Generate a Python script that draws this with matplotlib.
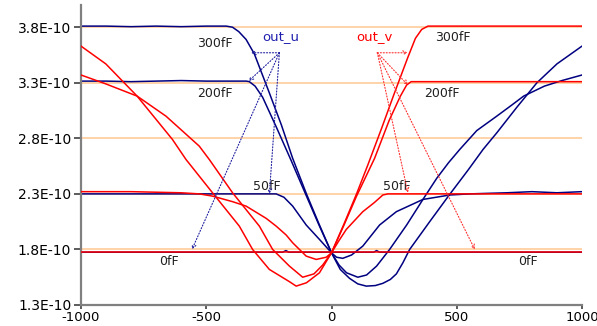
import matplotlib
matplotlib.use("Agg")
import matplotlib.pyplot as plt
from matplotlib.ticker import FuncFormatter

# values in units of 1E-10
# out_u (navy)
u0_x = [-1000, -300, -195, -182, -170, 0, 168, 180, 192, 1000]
u0_y = [1.775, 1.775, 1.775, 1.79, 1.775, 1.775, 1.775, 1.79, 1.775, 1.775]
u50_x = [-1000, -800, -600, -400, -240, -221, -190, -155, -101, -48, 0, 20, 45, 80, 125,
         192, 259, 365, 472, 550, 700, 800, 900, 1000]
u50_y = [2.30, 2.30, 2.30, 2.30, 2.30, 2.30, 2.27, 2.19, 2.02, 1.89, 1.77, 1.73, 1.72, 1.75, 1.83,
         2.02, 2.14, 2.25, 2.29, 2.30, 2.31, 2.32, 2.31, 2.32]
u200_x = [-1000, -900, -800, -700, -600, -500, -400, -340, -328, -305, -275, -220, -161, -100, -50,
          0, 30, 60, 105, 140, 180, 232, 300, 365, 420, 467, 512, 580, 660, 720, 767, 850, 920, 1000]
u200_y = [3.315, 3.315, 3.31, 3.315, 3.32, 3.315, 3.315, 3.315, 3.31, 3.27, 3.17, 2.90, 2.60, 2.28, 2.02,
          1.77, 1.66, 1.59, 1.55, 1.57, 1.65, 1.80, 2.02, 2.25, 2.44, 2.58, 2.70, 2.87, 3.00, 3.10, 3.18, 3.27, 3.32, 3.37]
u300_x = [-1000, -900, -800, -700, -600, -500, -420, -395, -370, -341, -308, -250, -200, -155, -100, -50,
          0, 35, 72, 105, 139, 175, 205, 235, 259, 285, 312, 392, 470, 527, 547, 605, 660, 740, 820, 900, 1000]
u300_y = [3.81, 3.81, 3.805, 3.81, 3.805, 3.81, 3.81, 3.80, 3.76, 3.69, 3.56, 3.22, 2.92, 2.62, 2.30, 2.03,
          1.77, 1.62, 1.54, 1.49, 1.47, 1.475, 1.495, 1.53, 1.58, 1.68, 1.80, 2.05, 2.29, 2.46, 2.52, 2.70, 2.85, 3.08, 3.30, 3.47, 3.63]

# out_v (red)
v0_x = [-1000, 1000]
v0_y = [1.775, 1.775]
v50_x = [-1000, -800, -600, -528, -475, -395, -341, -261, -221, -181, -155, -101, -61, -21, 0,
         30, 59, 125, 170, 205, 225, 400, 600, 800, 1000]
v50_y = [2.32, 2.32, 2.31, 2.30, 2.28, 2.23, 2.19, 2.08, 2.01, 1.93, 1.86, 1.74, 1.71, 1.73, 1.77,
         1.88, 1.98, 2.14, 2.22, 2.29, 2.30, 2.30, 2.30, 2.30, 2.30]
v200_x = [-1000, -901, -776, -661, -528, -488, -395, -288, -235, -168, -115, -70, -35, 0,
          50, 100, 172, 230, 275, 300, 318, 500, 700, 1000]
v200_y = [3.37, 3.29, 3.18, 3.00, 2.73, 2.61, 2.31, 2.01, 1.80, 1.65, 1.55, 1.58, 1.66, 1.77,
          2.02, 2.28, 2.62, 2.96, 3.18, 3.28, 3.31, 3.31, 3.31, 3.31]
v300_x = [-1000, -901, -776, -635, -581, -475, -368, -315, -248, -168, -141, -100, -48, 0,
          50, 100, 145, 200, 250, 305, 335, 360, 385, 600, 800, 1000]
v300_y = [3.63, 3.47, 3.18, 2.79, 2.61, 2.31, 2.01, 1.80, 1.62, 1.51, 1.47, 1.50, 1.59, 1.77,
          2.03, 2.30, 2.56, 2.89, 3.20, 3.53, 3.70, 3.78, 3.81, 3.81, 3.81, 3.81]

grid_levels = [1.8, 2.3, 2.8, 3.3, 3.8]
y_ticks = [1.3, 1.8, 2.3, 2.8, 3.3, 3.8]
x_ticks = [-1000, -500, 0, 500, 1000]

# callout labels: (text, x, y)
cap_labels = [("300fF", -466, 3.655), ("200fF", -466, 3.20), ("50fF", -258, 2.37), ("0fF", -650, 1.69),
              ("300fF", 486, 3.705), ("200fF", 442, 3.20), ("50fF", 262, 2.37), ("0fF", 784, 1.69)]
u_src = (-208, 3.57)
u_targets = [(-321, 3.57), (-331, 3.315), (-248, 2.30), (-557, 1.80)]
v_src = (183, 3.57)
v_targets = [(305, 3.57), (305, 3.28), (305, 2.31), (572, 1.80)]

NAVY = "#000080"
RED = "#FF0000"

plt.rcParams["axes.unicode_minus"] = False
plt.rcParams["font.family"] = "DejaVu Sans"

fig = plt.figure(figsize=(5.97, 3.26), dpi=100)
ax = fig.add_axes([81 / 597, 21 / 326, 501 / 597, 300 / 326])

for lvl in grid_levels:
    ax.axhline(lvl, color="#FFCC99", lw=1.2, zorder=0)

for xs, ys in [(u0_x, u0_y), (u50_x, u50_y), (u200_x, u200_y), (u300_x, u300_y)]:
    ax.plot(xs, ys, color=NAVY, lw=1.1, zorder=2)
for xs, ys in [(v0_x, v0_y), (v50_x, v50_y), (v200_x, v200_y), (v300_x, v300_y)]:
    ax.plot(xs, ys, color=RED, lw=1.1, zorder=3)

for tgt in u_targets:
    ax.annotate("", xy=tgt, xytext=u_src,
                arrowprops=dict(arrowstyle="->", ls=":", color="#2020A0", lw=0.8,
                                mutation_scale=7, shrinkA=0, shrinkB=0), zorder=4)
for tgt in v_targets:
    ax.annotate("", xy=tgt, xytext=v_src,
                arrowprops=dict(arrowstyle="->", ls=":", color="#FF3030", lw=0.8,
                                mutation_scale=7, shrinkA=0, shrinkB=0), zorder=4)

ax.text(-202, 3.72, "out_u", color="#2020B0", fontsize=9.5, ha="center", va="center")
ax.text(172, 3.72, "out_v", color=RED, fontsize=9.5, ha="center", va="center")
for txt, x, y in cap_labels:
    ax.text(x, y, txt, color="#202020", fontsize=9, ha="center", va="center")

ax.set_xlim(-1000, 1000)
ax.set_ylim(1.3, 4.0)
ax.set_xticks(x_ticks)
ax.set_yticks(y_ticks)
ax.yaxis.set_major_formatter(FuncFormatter(lambda v, p: f"{v:.1f}E-10"))
ax.tick_params(axis="y", labelsize=10, color="#404040", width=1.2, length=5, pad=2)
ax.tick_params(axis="x", labelsize=9.5, color="#404040", width=1.2, length=3, pad=1)

for side in ["top", "right"]:
    ax.spines[side].set_visible(False)
for side in ["left", "bottom"]:
    ax.spines[side].set_color("#808080")
    ax.spines[side].set_linewidth(1.6)

fig.savefig("out.png", dpi=100)
